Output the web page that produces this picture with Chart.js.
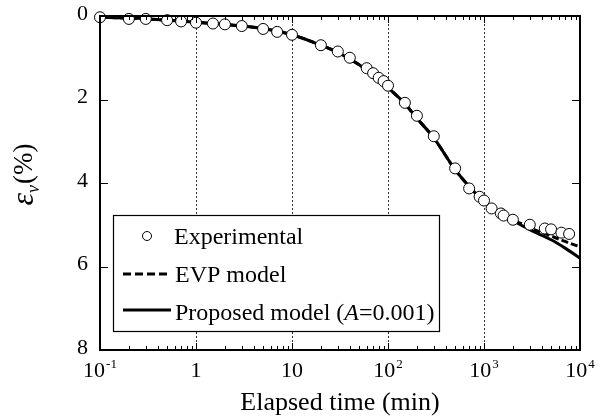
<!DOCTYPE html>
<html><head><meta charset="utf-8">
<script src="https://cdn.jsdelivr.net/npm/chart.js@4"></script>
<style>html,body{margin:0;padding:0;background:#fff}#wrap{width:605px;height:420px}</style>
</head><body><div id="wrap"><canvas id="c" width="605" height="420"></canvas></div>
<script>
const expTime=[0.1,0.2,0.3,0.5,0.7,1,1.5,2,3,5,7,10,20,30,40,60,70,80,90,100,150,200,300,500,700,900,1000,1200,1500,1600,2000,3000,4300,5000,6400,7700];
const expStrain=[0.03,0.07,0.07,0.1,0.13,0.16,0.18,0.2,0.24,0.31,0.38,0.45,0.70,0.85,1.0,1.25,1.37,1.48,1.56,1.67,2.08,2.39,2.88,3.65,4.13,4.33,4.42,4.61,4.73,4.78,4.88,5.0,5.09,5.11,5.19,5.22];
const modelTime=[0.1,0.2,0.5,1,2,5,10,20,30,50,70,100,150,200,300,500,700,1000,1500,2000,3000,5000,7000,10000];
const evpStrain=[0.03,0.05,0.1,0.15,0.2,0.3,0.45,0.7,0.87,1.17,1.42,1.72,2.1,2.45,2.92,3.68,4.08,4.44,4.7,4.87,5.07,5.27,5.4,5.53];
const proposedStrain=[0.03,0.05,0.1,0.15,0.2,0.3,0.45,0.7,0.87,1.17,1.42,1.72,2.1,2.45,2.92,3.68,4.08,4.45,4.72,4.9,5.12,5.36,5.56,5.8];
const xTickValues=[0.1,1,10,100,1000,10000];
const xTickBase=['10','1','10','10','10','10'];
const xTickExp=['-1','','','2','3','4'];
const yTickValues=[0,2,4,6,8];
const gridValues=[1,10,100,1000];
const legendLabels=['Experimental','EVP model','Proposed model ('];
const xTitle='Elapsed time (min)';

const SERIF="'Liberation Serif','Times New Roman',serif";

const axesPlugin={
  id:'axesPlugin',
  beforeDatasetsDraw(chart){
    const ctx=chart.ctx, xs=chart.scales.x, a=chart.chartArea;
    ctx.save();
    ctx.strokeStyle='#333';ctx.lineWidth=1;ctx.setLineDash([2,2]);
    gridValues.forEach(v=>{
      const px=Math.round(xs.getPixelForValue(v))+0.5;
      ctx.beginPath();ctx.moveTo(px,a.top);ctx.lineTo(px,a.bottom);ctx.stroke();
    });
    ctx.restore();
  },
  afterDatasetsDraw(chart){
    const ctx=chart.ctx, xs=chart.scales.x, ys=chart.scales.y, a=chart.chartArea;
    ctx.save();
    ctx.strokeStyle='#000';ctx.setLineDash([]);
    ctx.lineWidth=1;
    for(let e=-1;e<4;e++){
      for(let m=1;m<10;m++){
        const v=m*Math.pow(10,e);
        const px=Math.round(xs.getPixelForValue(v))+0.5;
        const len=(m===1)?7:4;
        ctx.beginPath();
        ctx.moveTo(px,a.bottom);ctx.lineTo(px,a.bottom-len);
        ctx.moveTo(px,a.top);ctx.lineTo(px,a.top+len);
        ctx.stroke();
      }
    }
    yTickValues.forEach(v=>{
      const py=Math.round(ys.getPixelForValue(v))+0.5;
      ctx.beginPath();
      ctx.moveTo(a.left,py);ctx.lineTo(a.left+8,py);
      ctx.moveTo(a.right,py);ctx.lineTo(a.right-8,py);
      ctx.stroke();
    });
    ctx.lineWidth=2;
    ctx.strokeRect(a.left,a.top,a.right-a.left,a.bottom-a.top);
    ctx.fillStyle='#000';
    ctx.font='22px '+SERIF;
    ctx.textAlign='right';ctx.textBaseline='middle';
    yTickValues.forEach(v=>{
      ctx.fillText(String(v),a.left-12,ys.getPixelForValue(v)-2);
    });
    ctx.textBaseline='alphabetic';ctx.textAlign='left';
    xTickValues.forEach((v,i)=>{
      const px=xs.getPixelForValue(v);
      ctx.font='22px '+SERIF;
      const wb=ctx.measureText(xTickBase[i]).width;
      ctx.font='13px '+SERIF;
      const we=xTickExp[i]?ctx.measureText(xTickExp[i]).width+1:0;
      const x0=px-(wb+we)/2;
      ctx.font='22px '+SERIF;
      ctx.fillText(xTickBase[i],x0,377);
      if(xTickExp[i]){ctx.font='13px '+SERIF;ctx.fillText(xTickExp[i],x0+wb+1,368);}
    });
    ctx.font='26px '+SERIF;ctx.textAlign='center';
    ctx.fillText(xTitle,(a.left+a.right)/2,410);
    ctx.save();
    ctx.translate(33,175);ctx.rotate(-Math.PI/2);
    ctx.textAlign='left';
    ctx.font='italic 32px '+SERIF;const w1=ctx.measureText('ε').width;
    ctx.font='italic 18px '+SERIF;const w2=ctx.measureText('v').width;
    ctx.font='27px '+SERIF;const w3=ctx.measureText('(%)').width;
    let x=-(w1+w2+w3)/2;
    ctx.font='italic 32px '+SERIF;ctx.fillText('ε',x,0);x+=w1;
    ctx.font='italic 18px '+SERIF;ctx.fillText('v',x,6);x+=w2+1;
    ctx.font='27px '+SERIF;ctx.fillText('(%)',x,-1);
    ctx.restore();
    // legend
    ctx.fillStyle='#fff';ctx.fillRect(113,215,326,116);
    ctx.lineWidth=1.2;ctx.strokeStyle='#000';
    ctx.strokeRect(113.5,215.5,326,116);
    ctx.beginPath();ctx.arc(147,236,4.5,0,Math.PI*2);ctx.fillStyle='#fff';ctx.fill();ctx.lineWidth=1;ctx.stroke();
    ctx.lineWidth=3;ctx.setLineDash([8,4]);
    ctx.beginPath();ctx.moveTo(123,274);ctx.lineTo(171,274);ctx.stroke();
    ctx.setLineDash([]);
    ctx.beginPath();ctx.moveTo(123,310);ctx.lineTo(171,310);ctx.stroke();
    ctx.fillStyle='#000';ctx.font='24px '+SERIF;ctx.textAlign='left';ctx.textBaseline='alphabetic';
    ctx.fillText(legendLabels[0],174,244);
    ctx.fillText(legendLabels[1],175,282);
    let lx=175;
    ctx.fillText(legendLabels[2],lx,320);lx+=ctx.measureText(legendLabels[2]).width;
    ctx.font='italic 24px '+SERIF;ctx.fillText('A',lx,320);lx+=ctx.measureText('A').width;
    ctx.font='24px '+SERIF;ctx.fillText('=0.001)',lx,320);
    ctx.restore();
  }
};

const toXY=(xs,ys)=>xs.map((x,i)=>({x:x,y:ys[i]}));

new Chart(document.getElementById('c'),{
  type:'scatter',
  data:{datasets:[
    {label:'Experimental',data:toXY(expTime,expStrain),pointRadius:5.5,pointBackgroundColor:'#fff',pointBorderColor:'#000',pointBorderWidth:1,showLine:false},
    {label:'EVP model',data:toXY(modelTime,evpStrain),showLine:true,borderColor:'#000',borderWidth:3,borderDash:[7,3],pointRadius:0,cubicInterpolationMode:'monotone'},
    {label:'Proposed model (A=0.001)',data:toXY(modelTime,proposedStrain),showLine:true,borderColor:'#000',borderWidth:3,pointRadius:0,cubicInterpolationMode:'monotone'}
  ]},
  options:{
    responsive:false,animation:false,
    layout:{padding:{left:100,right:25,top:16,bottom:70}},
    scales:{
      x:{type:'logarithmic',min:0.1,max:10000,display:false},
      y:{type:'linear',min:0,max:8,reverse:true,display:false}
    },
    plugins:{legend:{display:false},tooltip:{enabled:false}},
    clip:false
  },
  plugins:[axesPlugin]
});
</script></body></html>
